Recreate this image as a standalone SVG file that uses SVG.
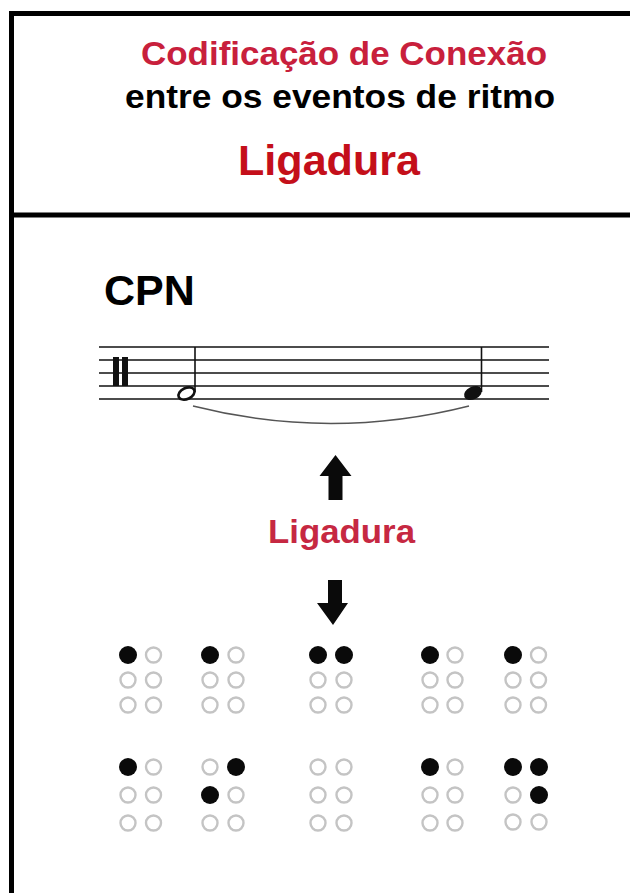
<svg xmlns="http://www.w3.org/2000/svg" width="630" height="893" viewBox="0 0 630 893">
<defs>
<style>
.t{font-family:"Liberation Sans",Arial,sans-serif;text-anchor:middle;font-weight:bold}
.frame{stroke:#000;stroke-width:5;fill:none}
.staff{stroke:#111;stroke-width:1.6}
.on{fill:#0a0a0a}
.off{fill:none;stroke:#c4c4c4;stroke-width:2.4}
.arrow{fill:#0a0a0a}
</style>
</defs>
<rect width="630" height="893" fill="#fff"/>
<g id="frame">
<line class="frame" x1="11.5" y1="13.5" x2="630" y2="13.5"/>
<line class="frame" x1="11.5" y1="11" x2="11.5" y2="893"/>
<line class="frame" x1="11.5" y1="215" x2="630" y2="215"/>
</g>
<g id="header">
<text class="t" x="344" y="65" font-size="34" fill="#c8203c" textLength="406" lengthAdjust="spacingAndGlyphs">Codificação de Conexão</text>
<text class="t" x="340" y="108" font-size="34" fill="#000" textLength="430" lengthAdjust="spacingAndGlyphs">entre os eventos de ritmo</text>
<text class="t" x="329" y="175" font-size="43" fill="#c40f1a" textLength="182" lengthAdjust="spacingAndGlyphs">Ligadura</text>
</g>
<g id="cpn">
<text x="104" y="305" font-size="43" font-weight="bold" font-family="Liberation Sans,Arial,sans-serif" fill="#000">CPN</text>
</g>
<g id="staff">
<line class="staff" x1="99" y1="347" x2="549" y2="347"/>
<line class="staff" x1="99" y1="360" x2="549" y2="360"/>
<line class="staff" x1="99" y1="373" x2="549" y2="373"/>
<line class="staff" x1="99" y1="386" x2="549" y2="386"/>
<line class="staff" x1="99" y1="399" x2="549" y2="399"/>
<rect x="113" y="357" width="6" height="29" fill="#111"/>
<rect x="122" y="357" width="6" height="29" fill="#111"/>
</g>
<g id="note1">
<line x1="195" y1="347" x2="195" y2="392" stroke="#111" stroke-width="1.6"/>
<ellipse cx="186.5" cy="393.5" rx="8.5" ry="5.5" transform="rotate(-25 186.5 393.5)" fill="#fff" stroke="#111" stroke-width="2.6"/>
</g>
<g id="note2">
<line x1="481.5" y1="347" x2="481.5" y2="392" stroke="#111" stroke-width="1.6"/>
<ellipse cx="473" cy="393" rx="9.5" ry="6.3" transform="rotate(-25 473 393)" fill="#111"/>
</g>
<g id="tie">
<path d="M193,406 Q331,441 469,406" fill="none" stroke="#555" stroke-width="1.5"/>
</g>
<g id="label">
<text class="t" x="341.5" y="543" font-size="34" fill="#c62842" textLength="147" lengthAdjust="spacingAndGlyphs">Ligadura</text>
</g>
<g id="connectors">
<polygon class="arrow" points="335.5,455 351.5,476 342.5,476 342.5,500 328.5,500 328.5,476 319.5,476"/>
<polygon class="arrow" points="328,580 342,580 342,603 348,603 333,625 317,603 328,603"/>
</g>
<g id="braille-top">
<circle class="on" cx="128" cy="655" r="9"/><circle class="off" cx="153.5" cy="655" r="7.5"/>
<circle class="off" cx="128" cy="680" r="7.5"/><circle class="off" cx="153.5" cy="680" r="7.5"/>
<circle class="off" cx="128" cy="705" r="7.5"/><circle class="off" cx="153.5" cy="705" r="7.5"/>
<circle class="on" cx="210" cy="655" r="9"/><circle class="off" cx="236" cy="655" r="7.5"/>
<circle class="off" cx="210" cy="680" r="7.5"/><circle class="off" cx="236" cy="680" r="7.5"/>
<circle class="off" cx="210" cy="705" r="7.5"/><circle class="off" cx="236" cy="705" r="7.5"/>
<circle class="on" cx="318" cy="655" r="9"/><circle class="on" cx="344" cy="655" r="9"/>
<circle class="off" cx="318" cy="680" r="7.5"/><circle class="off" cx="344" cy="680" r="7.5"/>
<circle class="off" cx="318" cy="705" r="7.5"/><circle class="off" cx="344" cy="705" r="7.5"/>
<circle class="on" cx="430" cy="655" r="9"/><circle class="off" cx="455" cy="655" r="7.5"/>
<circle class="off" cx="430" cy="680" r="7.5"/><circle class="off" cx="455" cy="680" r="7.5"/>
<circle class="off" cx="430" cy="705" r="7.5"/><circle class="off" cx="455" cy="705" r="7.5"/>
<circle class="on" cx="513" cy="655" r="9"/><circle class="off" cx="538.5" cy="655" r="7.5"/>
<circle class="off" cx="513" cy="680" r="7.5"/><circle class="off" cx="538.5" cy="680" r="7.5"/>
<circle class="off" cx="513" cy="705" r="7.5"/><circle class="off" cx="538.5" cy="705" r="7.5"/>
</g>
<g id="braille-bottom">
<circle class="on" cx="128" cy="767" r="9"/><circle class="off" cx="153.5" cy="767" r="7.5"/>
<circle class="off" cx="128" cy="795" r="7.5"/><circle class="off" cx="153.5" cy="795" r="7.5"/>
<circle class="off" cx="128" cy="823" r="7.5"/><circle class="off" cx="153.5" cy="823" r="7.5"/>
<circle class="off" cx="210" cy="767" r="7.5"/><circle class="on" cx="236" cy="767" r="9"/>
<circle class="on" cx="210" cy="795" r="9"/><circle class="off" cx="236" cy="795" r="7.5"/>
<circle class="off" cx="210" cy="823" r="7.5"/><circle class="off" cx="236" cy="823" r="7.5"/>
<circle class="off" cx="318" cy="767" r="7.5"/><circle class="off" cx="344" cy="767" r="7.5"/>
<circle class="off" cx="318" cy="795" r="7.5"/><circle class="off" cx="344" cy="795" r="7.5"/>
<circle class="off" cx="318" cy="823" r="7.5"/><circle class="off" cx="344" cy="823" r="7.5"/>
<circle class="on" cx="430" cy="767" r="9"/><circle class="off" cx="455" cy="767" r="7.5"/>
<circle class="off" cx="430" cy="795" r="7.5"/><circle class="off" cx="455" cy="795" r="7.5"/>
<circle class="off" cx="430" cy="823" r="7.5"/><circle class="off" cx="455" cy="823" r="7.5"/>
<circle class="on" cx="513" cy="767" r="9"/><circle class="on" cx="539" cy="767" r="9"/>
<circle class="off" cx="513" cy="795" r="7.5"/><circle class="on" cx="539" cy="795" r="9"/>
<circle class="off" cx="513" cy="822" r="7.5"/><circle class="off" cx="539" cy="822" r="7.5"/>
</g>
</svg>
